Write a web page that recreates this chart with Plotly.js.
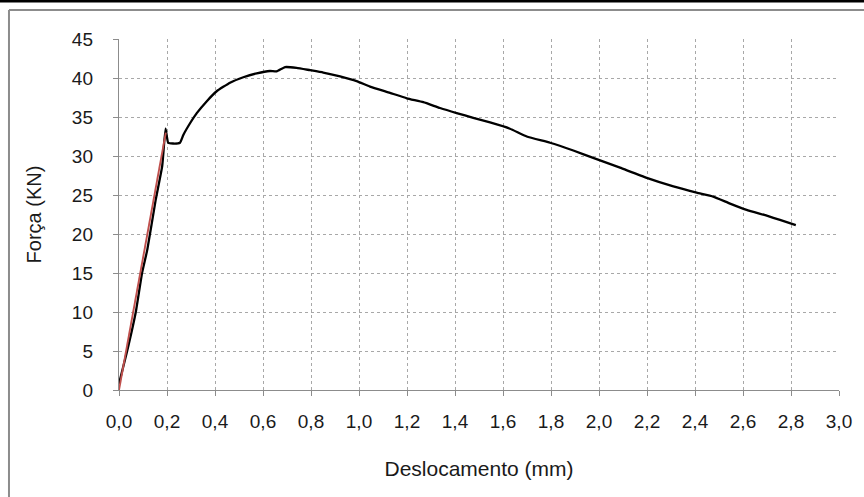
<!DOCTYPE html>
<html>
<head>
<meta charset="utf-8">
<script src="https://cdn.plot.ly/plotly-3.0.1.min.js"></script>
<style>html,body{margin:0;padding:0;background:#fff;}#chart{width:864px;height:497px;}</style>
</head>
<body>
<div id="chart"></div>
<script>
// Measured curve: Deslocamento (mm) vs Força (KN)
var deslocamento = [0, 0.034, 0.07, 0.096, 0.118, 0.153, 0.18, 0.194, 0.205, 0.225, 0.254, 0.268, 0.296, 0.324, 0.365, 0.407, 0.4625, 0.518, 0.574, 0.629, 0.657, 0.692, 0.74, 0.796, 0.851, 0.921, 0.99, 1.046, 1.129, 1.199, 1.268, 1.3375, 1.407, 1.476, 1.546, 1.629, 1.699, 1.796, 1.893, 1.99, 2.0875, 2.199, 2.31, 2.407, 2.476, 2.546, 2.615, 2.699, 2.754, 2.82];
var forca = [0.8, 5, 10, 15, 18, 24.4, 28.7, 33.5, 31.7, 31.6, 31.7, 32.7, 34.2, 35.5, 37.0, 38.3, 39.4, 40.1, 40.6, 40.9, 40.85, 41.4, 41.3, 41.0, 40.7, 40.2, 39.6, 38.9, 38.1, 37.4, 36.9, 36.15, 35.5, 34.9, 34.3, 33.5, 32.5, 31.7, 30.7, 29.6, 28.5, 27.2, 26.1, 25.3, 24.8, 23.9, 23.1, 22.35, 21.8, 21.15];
// Elastic (linear) fit line
var linX = [0, 0.195];
var linY = [0, 33];

var fontFam = "'Liberation Sans', Arial, sans-serif";

var traces = [
  {x: deslocamento, y: forca, type: 'scatter', mode: 'lines',
   line: {color: '#000000', width: 2.3, shape: 'spline', smoothing: 0.4}, hoverinfo: 'skip'},
  {x: linX, y: linY, type: 'scatter', mode: 'lines',
   line: {color: '#C0504D', width: 1.9}, hoverinfo: 'skip'}
];

var layout = {
  width: 864, height: 497,
  margin: {l: 119, r: 25, t: 39, b: 107},
  paper_bgcolor: '#ffffff', plot_bgcolor: '#ffffff',
  showlegend: false,
  separators: ',.',
  font: {family: fontFam, color: '#1a1a1a'},
  xaxis: {
    range: [0, 3.0], dtick: 0.2, tick0: 0, tickformat: '.1f',
    showgrid: true, gridcolor: '#a8a8a8', griddash: 'dot', gridwidth: 1,
    showline: true, linecolor: '#8c8c8c', linewidth: 1.2,
    ticks: 'outside', ticklen: 5, tickcolor: '#8c8c8c',
    ticklabelstandoff: 9,
    zeroline: false, fixedrange: true,
    tickfont: {size: 19, family: fontFam, color: '#1a1a1a'},
    title: {text: 'Deslocamento (mm)', font: {size: 21, family: fontFam, color: '#1a1a1a'}, standoff: 30}
  },
  yaxis: {
    range: [0, 45], dtick: 5, tick0: 0,
    showgrid: true, gridcolor: '#a8a8a8', griddash: 'dot', gridwidth: 1,
    showline: true, linecolor: '#8c8c8c', linewidth: 1.2,
    ticks: 'outside', ticklen: 5, tickcolor: '#8c8c8c',
    ticklabelstandoff: 16,
    zeroline: false, fixedrange: true,
    tickfont: {size: 19, family: fontFam, color: '#1a1a1a'},
    title: {text: 'Força (KN)', font: {size: 20, family: fontFam, color: '#1a1a1a'}, standoff: 24}
  },
  shapes: [
    {type: 'line', xref: 'paper', yref: 'paper', x0: -0.2, x1: 1.1, y0: 1.1083, y1: 1.1083,
     line: {color: '#000000', width: 3}},
    {type: 'line', xref: 'paper', yref: 'paper', x0: -0.1528, x1: 1.1, y0: 1.0826, y1: 1.0826,
     line: {color: '#8c8c8c', width: 2}},
    {type: 'line', xref: 'paper', yref: 'paper', x0: -0.1528, x1: -0.1528, y0: 1.0826, y1: -0.35,
     line: {color: '#8c8c8c', width: 2}}
  ]
};

Plotly.newPlot('chart', traces, layout, {displayModeBar: false, staticPlot: true});
</script>
</body>
</html>
